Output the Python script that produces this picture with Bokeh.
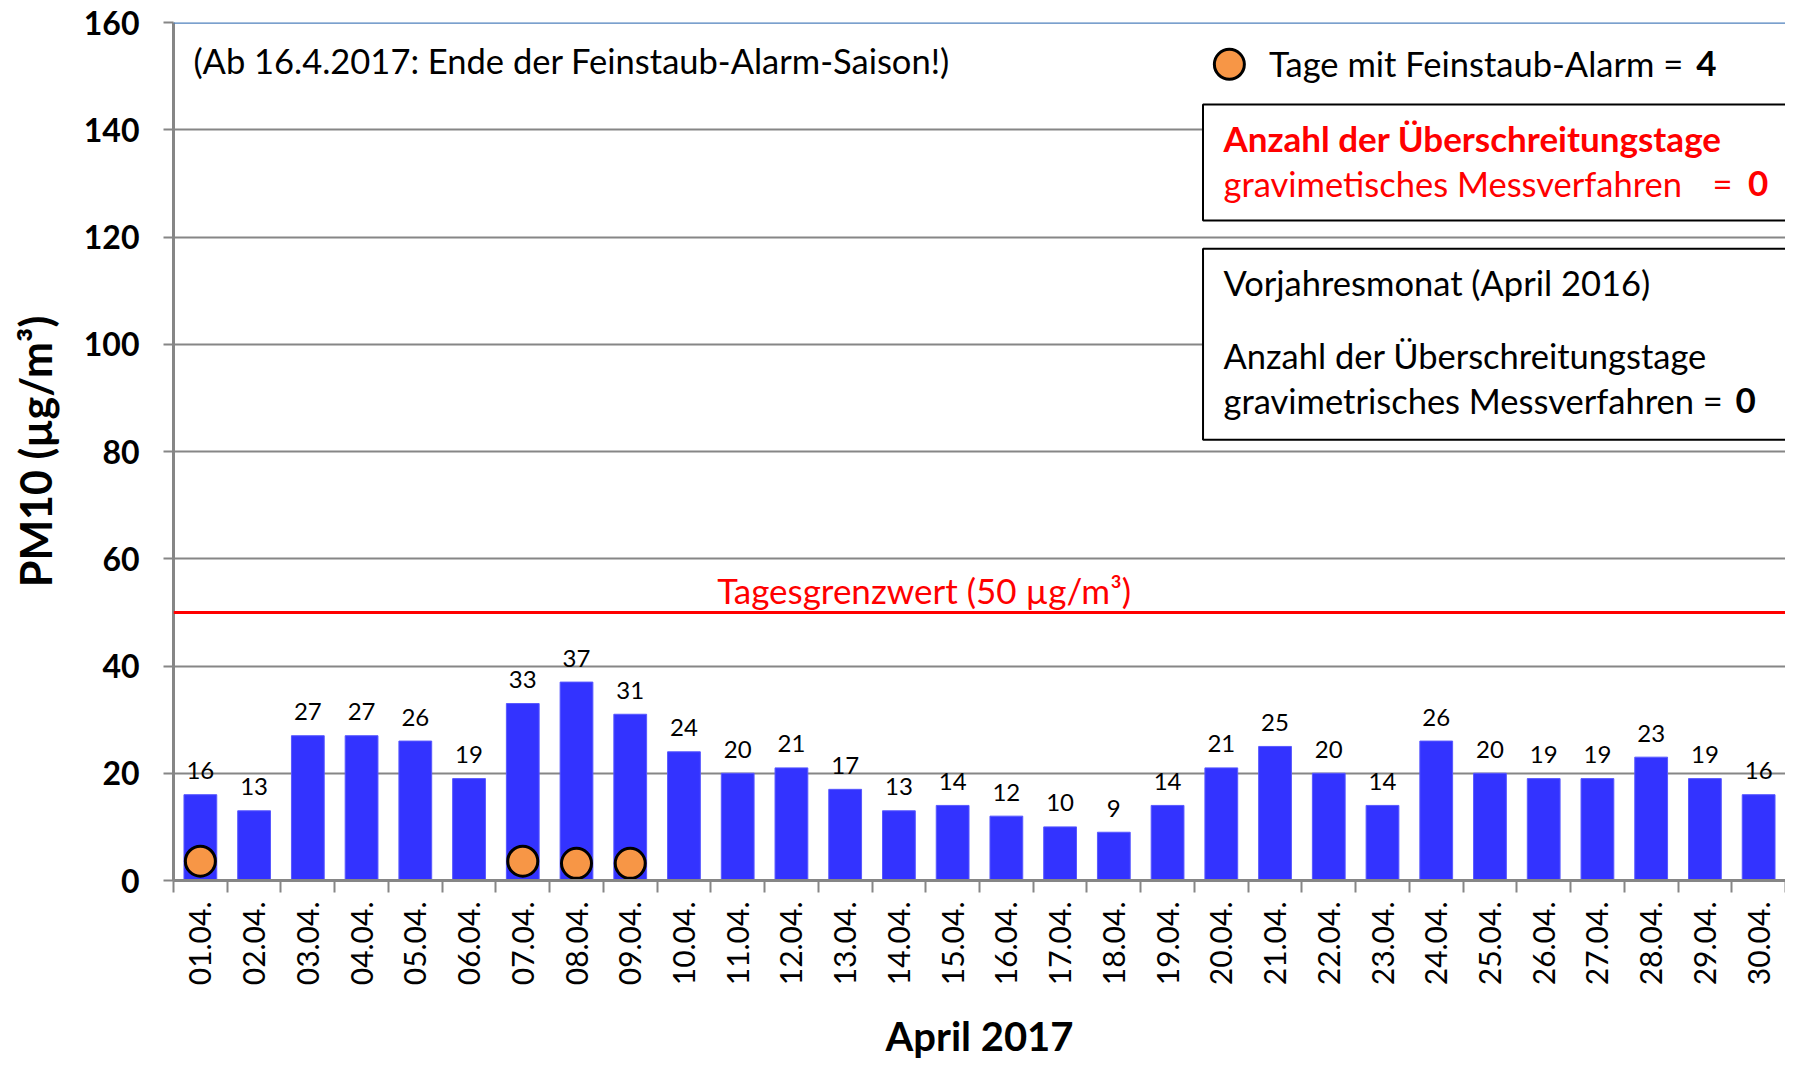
import math
from bokeh.plotting import figure
from bokeh.models import Range1d, FixedTicker, CustomJSTickFormatter, Span
from bokeh.core.properties import value
from bokeh.embed import file_html
from bokeh.resources import INLINE

# ---------------- data ----------------
days = ["01.04.", "02.04.", "03.04.", "04.04.", "05.04.", "06.04.", "07.04.", "08.04.",
        "09.04.", "10.04.", "11.04.", "12.04.", "13.04.", "14.04.", "15.04.", "16.04.",
        "17.04.", "18.04.", "19.04.", "20.04.", "21.04.", "22.04.", "23.04.", "24.04.",
        "25.04.", "26.04.", "27.04.", "28.04.", "29.04.", "30.04."]
pm10 = [16, 13, 27, 27, 26, 19, 33, 37, 31, 24, 20, 21, 17, 13, 14, 12, 10, 9, 14, 21,
        25, 20, 14, 26, 20, 19, 19, 23, 19, 16]
alarm_days = ["01.04.", "07.04.", "08.04.", "09.04."]
alarm_marker_y = [3.6, 3.6, 3.2, 3.2]
y_ticks = [0, 20, 40, 60, 80, 100, 120, 140, 160]
limit_value = 50

FONT = "Lato"
GRAY = "#868686"
RED = "#FF0000"
FS = "34.5px"
FSB = "35px"

p = figure(width=1785, height=1063, output_backend="svg", toolbar_location=None,
           x_range=Range1d(0, len(days)), y_range=Range1d(0, 160),
           min_border_left=173, min_border_top=22, min_border_right=0,
           min_border_bottom=183)
p.outline_line_color = None
p.background_fill_color = "white"

# x axis: labels at category centres, ticks at category boundaries
xc = [i + 0.5 for i in range(len(days))]
p.xaxis.ticker = FixedTicker(ticks=xc, minor_ticks=list(range(len(days) + 1)))
p.xaxis.formatter = CustomJSTickFormatter(args=dict(labels=days),
                                          code="return labels[Math.floor(tick)];")
p.xaxis.major_tick_line_color = None
p.xaxis.major_tick_out = 12
p.xaxis.major_tick_in = 0
p.xaxis.minor_tick_out = 12
p.xaxis.minor_tick_in = 0
p.xaxis.minor_tick_line_color = GRAY
p.xaxis.minor_tick_line_width = 2
p.xaxis.axis_line_color = GRAY
p.xaxis.axis_line_width = 3
p.xaxis.major_label_orientation = math.pi / 2
p.xaxis.major_label_standoff = 9
p.xaxis.major_label_text_font = FONT
p.xaxis.major_label_text_font_size = "30px"
p.xaxis.major_label_text_color = "black"
p.xaxis.axis_label = "April 2017"
p.xaxis.axis_label_text_font = FONT
p.xaxis.axis_label_text_font_size = "40px"
p.xaxis.axis_label_text_font_style = "bold"
p.xaxis.axis_label_text_color = "black"
p.xaxis.axis_label_standoff = 24

# y axis
p.yaxis.ticker = FixedTicker(ticks=y_ticks)
p.yaxis.major_tick_out = 10
p.yaxis.major_tick_in = 0
p.yaxis.major_tick_line_color = GRAY
p.yaxis.major_tick_line_width = 2
p.yaxis.minor_tick_line_color = None
p.yaxis.axis_line_color = GRAY
p.yaxis.axis_line_width = 3
p.yaxis.major_label_standoff = 24
p.yaxis.major_label_text_font = FONT
p.yaxis.major_label_text_font_size = "32px"
p.yaxis.major_label_text_font_style = "bold"
p.yaxis.major_label_text_color = "black"
p.yaxis.axis_label = "PM10 (µg/m³)"
p.yaxis.axis_label_text_font = FONT
p.yaxis.axis_label_text_font_size = "43px"
p.yaxis.axis_label_text_font_style = "bold"
p.yaxis.axis_label_text_color = "black"
p.yaxis.axis_label_standoff = 20

p.xgrid.visible = False
p.ygrid.ticker = FixedTicker(ticks=y_ticks)
p.ygrid.grid_line_color = GRAY
p.ygrid.grid_line_width = 2

# top border line
p.add_layout(Span(location=y_ticks[-1], dimension="width", line_color="#4F81BD", line_width=2.5))

# bars
p.vbar(x=xc, top=pm10, bottom=0, width=0.61, fill_color="#3333FF",
       line_color="#5858ff", line_width=1)
p.text(x=xc, y=pm10, text=[str(v) for v in pm10], text_align="center",
       text_baseline="alphabetic", y_offset=-24, text_font=value(FONT),
       text_font_size="24px", text_color="black")

# limit line
p.add_layout(Span(location=limit_value, dimension="width", line_color=RED, line_width=3))
p.text(x=[13.97], y=[54.2], text=["Tagesgrenzwert (50 µg/m³)"], text_align="center",
       text_baseline="middle", text_font=value(FONT), text_font_size=FSB, text_color=RED)

# alarm markers
ax = [days.index(d) + 0.5 for d in alarm_days]
p.scatter(x=ax, y=alarm_marker_y, size=30, fill_color="#F79646", line_color="black",
          line_width=3)

# note text
p.text(x=[0.37], y=[153.0], text=["(Ab 16.4.2017: Ende der Feinstaub-Alarm-Saison!)"],
       text_align="left", text_baseline="middle", text_font=value(FONT),
       text_font_size=FS, text_color="black")

# legend marker + text
p.scatter(x=[19.65], y=[152.2], size=30, fill_color="#F79646", line_color="black",
          line_width=3)
p.text(x=[20.39], y=[152.4], text=["Tage mit Feinstaub-Alarm ="], text_align="left",
       text_baseline="middle", text_font=value(FONT), text_font_size=FS,
       text_color="black")
p.text(x=[28.34], y=[152.4], text=["4"], text_align="left", text_baseline="middle",
       text_font=value(FONT), text_font_size=FSB, text_font_style="bold",
       text_color="black")

# box 1 (red)
p.quad(left=[19.16], right=[31], top=[144.7], bottom=[123.1], fill_color="white",
       line_color="black", line_width=2)
p.text(x=[19.54], y=[138.4], text=["Anzahl der Überschreitungstage"], text_align="left",
       text_baseline="middle", text_font=value(FONT), text_font_size=FSB,
       text_font_style="bold", text_color=RED)
p.text(x=[19.54], y=[129.9], text=["gravimetisches Messverfahren"], text_align="left",
       text_baseline="middle", text_font=value(FONT), text_font_size=FS,
       text_color=RED)
p.text(x=[28.64], y=[129.9], text=["="], text_align="left", text_baseline="middle",
       text_font=value(FONT), text_font_size=FS, text_color=RED)
p.text(x=[29.3], y=[129.9], text=["0"], text_align="left", text_baseline="middle",
       text_font=value(FONT), text_font_size=FSB, text_font_style="bold", text_color=RED)

# box 2 (previous year)
p.quad(left=[19.16], right=[31], top=[117.8], bottom=[82.2], fill_color="white",
       line_color="black", line_width=2)
p.text(x=[19.54], y=[111.6], text=["Vorjahresmonat (April 2016)"], text_align="left",
       text_baseline="middle", text_font=value(FONT), text_font_size=FS,
       text_color="black")
p.text(x=[19.54], y=[97.9], text=["Anzahl der Überschreitungstage"], text_align="left",
       text_baseline="middle", text_font=value(FONT), text_font_size=FS,
       text_color="black")
p.text(x=[19.54], y=[89.6], text=["gravimetrisches Messverfahren ="], text_align="left",
       text_baseline="middle", text_font=value(FONT), text_font_size=FS,
       text_color="black")
p.text(x=[29.07], y=[89.6], text=["0"], text_align="left", text_baseline="middle",
       text_font=value(FONT), text_font_size=FSB, text_font_style="bold",
       text_color="black")

open("out.html", "w").write(file_html(p, INLINE))
